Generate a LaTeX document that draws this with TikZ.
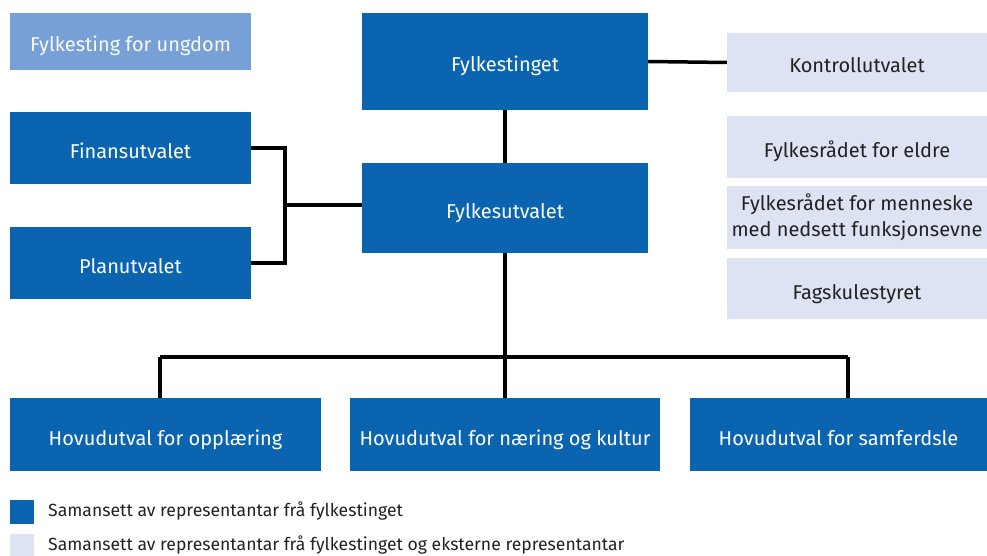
\documentclass[tikz,border=0pt]{standalone}
\usepackage{fontspec}
\setmainfont{Fira Sans}
\definecolor{dblue}{HTML}{0A64AF}
\definecolor{mblue}{HTML}{76A0D6}
\definecolor{lblue}{HTML}{DDE3F2}
\definecolor{dtext}{HTML}{222222}
\begin{document}
\begin{tikzpicture}[x=1pt,y=-1pt,
  box/.style={rectangle,inner sep=0pt,align=center,font=\fontsize{20}{26}\selectfont,text height=23pt,text depth=2pt},
  twoline/.style={text height=,text depth=},
  darkbox/.style={box,fill=dblue,text=white},
  midbox/.style={box,fill=mblue,text=white!95!mblue},
  lightbox/.style={box,fill=lblue,text=dtext},
  conn/.style={line width=3.5pt,black},
  legtext/.style={anchor=west,inner sep=0pt,text=dtext,font=\fontsize{17.6}{20}\selectfont}]
\useasboundingbox (0,0) rectangle (987,556);
\fill[white] (0,0) rectangle (987,556);
\node[midbox,minimum width=241,minimum height=57] (ungdom) at (130.5,41.5) {Fylkesting for ungdom};
\node[darkbox,minimum width=286,minimum height=97] (ting) at (505,61.5) {Fylkestinget};
\node[lightbox,minimum width=260,minimum height=59] (kontroll) at (857,62.5) {Kontrollutvalet};
\node[darkbox,minimum width=241,minimum height=72] (finans) at (130.5,148) {Finansutvalet};
\node[darkbox,minimum width=241,minimum height=72] (plan) at (130.5,263) {Planutvalet};
\node[darkbox,minimum width=286,minimum height=90] (utval) at (505,208) {Fylkesutvalet};
\node[lightbox,minimum width=260,minimum height=62] (eldre) at (857,147) {Fylkesrådet for eldre};
\node[lightbox,twoline,minimum width=260,minimum height=63] (menneske) at (857,217.5) {Fylkesrådet for menneske\\med nedsett funksjonsevne};
\node[lightbox,minimum width=260,minimum height=61] (fag) at (857,288.5) {Fagskulestyret};
\node[darkbox,minimum width=311,minimum height=73] (opp) at (165.5,434.5) {Hovudutval for opplæring};
\node[darkbox,minimum width=310,minimum height=73] (naering) at (505,434.5) {Hovudutval for næring og kultur};
\node[darkbox,minimum width=297,minimum height=73] (samf) at (838.5,434.5) {Hovudutval for samferdsle};
% connectors
\draw[conn] (ting.east) -- (kontroll.west);
\draw[conn] (ting.south) -- (utval.north);
\coordinate (brk) at (285,205);
\draw[conn] (finans.east) -| (brk) |- (plan.east);
\draw[conn] (brk) -- (brk -| utval.west);
\coordinate (bus) at (505,357);
\coordinate (b1) at (160,357);
\coordinate (b3) at (848,357);
\draw[conn] (utval.south) -- (bus);
\draw[conn] (b1) -- (b3);
\draw[conn] (b1) -- (b1 |- opp.north);
\draw[conn] (bus) -- (naering.north);
\draw[conn] (b3) -- (b3 |- samf.north);
% legend
\node[rectangle,fill=dblue,minimum width=24,minimum height=24,inner sep=0pt] (ld) at (22,512) {};
\node[rectangle,fill=lblue,minimum width=24,minimum height=22,inner sep=0pt] (ll) at (22,545) {};
\node[legtext] (ldt) at (48,511) {Samansett av representantar frå fylkestinget};
\node[legtext] (llt) at (48,545) {Samansett av representantar frå fylkestinget og eksterne representantar};
\end{tikzpicture}
\end{document}
